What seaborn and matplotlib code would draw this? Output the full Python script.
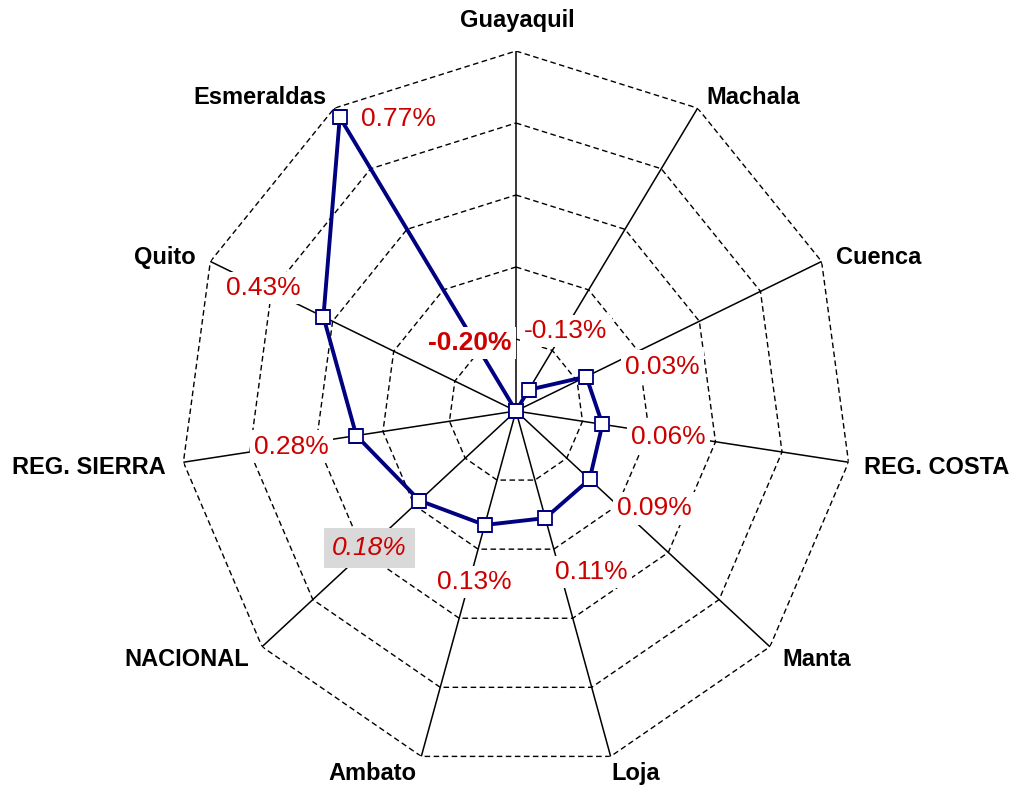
import numpy as np
import pandas as pd
import seaborn as sns
import matplotlib
import matplotlib.pyplot as plt

sns.set_style('white')
plt.rcParams['font.family'] = ['Liberation Sans', 'DejaVu Sans']

# datos
ciudades = ['Guayaquil', 'Machala', 'Cuenca', 'REG. COSTA', 'Manta', 'Loja',
            'Ambato', 'NACIONAL', 'REG. SIERRA', 'Quito', 'Esmeraldas']
variacion = [-0.20, -0.13, 0.03, 0.06, 0.09, 0.11, 0.13, 0.18, 0.28, 0.43, 0.77]
anillos = [0.0, 0.2, 0.4, 0.6, 0.8]
r_min, r_max = -0.2, 0.8

# desplazamientos de las etiquetas (pixeles)
off_cat = [(1, 31, 'center'), (9, 11, 'left'), (14, 4, 'left'), (15, -5, 'left'),
           (12, -13, 'left'), (1, -17, 'left'), (-5, -17, 'right'), (-13, -13, 'right'),
           (-18, -5, 'right'), (-15, 4, 'right'), (-8, 11, 'right')]
off_val = [(-46, 68), (37, 59), (76, 10), (66, -13), (65, -29), (46, -54),
           (-10, -57), (-50, -47), (-65, -11), (-60, 29), (59, -2)]

n = len(ciudades)
ang = np.arange(n) * 2 * np.pi / n
df = pd.DataFrame({'ciudad': ciudades, 'theta': ang, 'valor': variacion})
df_loop = pd.concat([df, df.iloc[[0]]], ignore_index=True)

fig = plt.figure(figsize=(10.14, 7.91), dpi=100)
ax = fig.add_axes([0.1775, 0.0253, 0.6627, 0.9102], projection='polar')
ax.set_aspect('auto')
ax.set_theta_zero_location('N')
ax.set_theta_direction(-1)
ax.set_ylim(r_min, r_max)
ax.grid(False)
ax.spines['polar'].set_visible(False)
ax.set_xticks([])
ax.set_yticks([])

ang_loop = np.append(ang, ang[0])
for r in anillos:
    ax.plot(ang_loop, [r] * len(ang_loop), color='black', lw=1.0,
            linestyle=(0, (4, 2.5)), zorder=1)
for t in ang:
    ax.plot([t, t], [r_min, r_max], color='black', lw=1.1, zorder=1)

sns.lineplot(data=df_loop, x='theta', y='valor', sort=False, estimator=None,
             color='#000080', lw=2.8, marker='s', markersize=10,
             markerfacecolor='white', markeredgecolor='#000080',
             markeredgewidth=1.3, ax=ax, zorder=3)
ax.set_xlabel('')
ax.set_ylabel('')

for i, nombre in enumerate(ciudades):
    dx, dy, ha = off_cat[i]
    ax.annotate(nombre, xy=(ang[i], r_max), xytext=(dx, dy),
                textcoords='offset pixels', ha=ha, va='center',
                fontsize=17, fontweight='bold', color='black')

for i, v in enumerate(variacion):
    dx, dy = off_val[i]
    estilo = dict(fontsize=19, color='#cc0000', ha='center', va='center', zorder=5)
    caja = dict(facecolor='white', edgecolor='none', pad=3)
    if ciudades[i] == 'Guayaquil':
        estilo['fontweight'] = 'bold'
    if ciudades[i] == 'NACIONAL':
        estilo['fontstyle'] = 'italic'
        caja = dict(facecolor='#d9d9d9', edgecolor='none', boxstyle='square,pad=0.3')
    ax.annotate(f'{v:.2f}%', xy=(ang[i], v), xytext=(dx, dy),
                textcoords='offset pixels', bbox=caja, **estilo)

plt.savefig('out.png', dpi=100)
